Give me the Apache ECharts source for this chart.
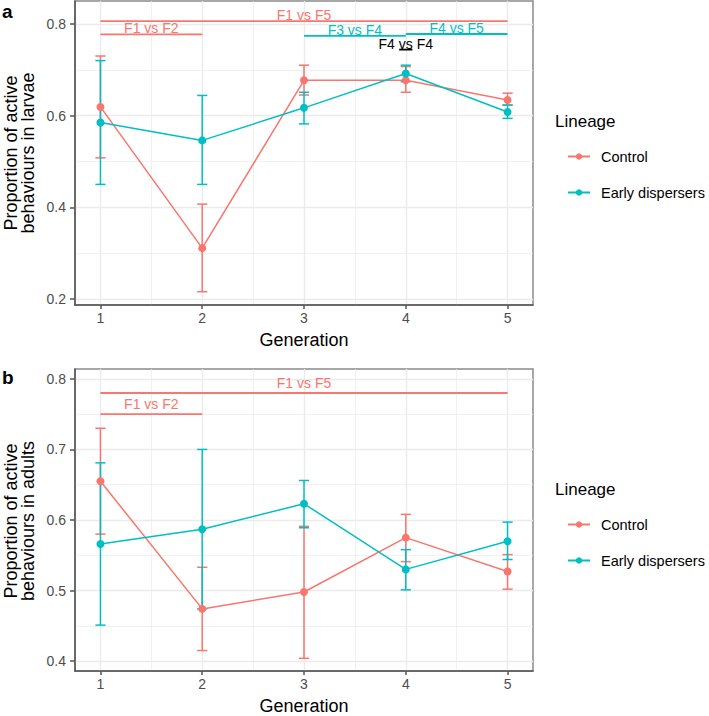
<!DOCTYPE html>
<html>
<head>
<meta charset="utf-8">
<script src="https://cdn.jsdelivr.net/npm/echarts@6/dist/echarts.min.js"></script>
<style>html,body{margin:0;padding:0;background:#fff}#c{width:709px;height:716px}</style>
</head>
<body>
<div id="c"></div>
<script>
// ---------- DATA ----------
const generations = [1, 2, 3, 4, 5];
const xTicks = [1, 2, 3, 4, 5];
const xMinor = [1.5, 2.5, 3.5, 4.5];

// Panel a: larvae
const larvaeCtrlMean = [0.619, 0.311, 0.677, 0.677, 0.634];
const larvaeCtrlLow  = [0.508, 0.216, 0.645, 0.651, 0.623];
const larvaeCtrlHigh = [0.730, 0.407, 0.710, 0.707, 0.649];
const larvaeEdMean   = [0.585, 0.546, 0.617, 0.692, 0.608];
const larvaeEdLow    = [0.450, 0.450, 0.582, 0.674, 0.594];
const larvaeEdHigh   = [0.720, 0.644, 0.651, 0.710, 0.623];
const larvaeYTicks = [0.2, 0.4, 0.6, 0.8];
const larvaeYMinor = [0.3, 0.5, 0.7];
const larvaeSigLabel = ['F1 vs F5', 'F1 vs F2', 'F3 vs F4', 'F4 vs F5', 'F4 vs F4'];
const larvaeSigX1    = [1, 1, 3, 4, 3.935];
const larvaeSigX2    = [5, 2, 4, 5, 4.065];
const larvaeSigY     = [0.806, 0.777, 0.774, 0.778, 0.744];
const larvaeSigGroup = ['Control', 'Control', 'Early dispersers', 'Early dispersers', 'none'];

// Panel b: adults
const adultCtrlMean = [0.655, 0.474, 0.498, 0.575, 0.527];
const adultCtrlLow  = [0.580, 0.415, 0.404, 0.541, 0.502];
const adultCtrlHigh = [0.730, 0.533, 0.591, 0.608, 0.551];
const adultEdMean   = [0.566, 0.587, 0.623, 0.530, 0.570];
const adultEdLow    = [0.451, 0.474, 0.589, 0.501, 0.544];
const adultEdHigh   = [0.681, 0.700, 0.656, 0.558, 0.597];
const adultYTicks = [0.4, 0.5, 0.6, 0.7, 0.8];
const adultYMinor = [0.45, 0.55, 0.65, 0.75];
const adultSigLabel = ['F1 vs F5', 'F1 vs F2'];
const adultSigX1    = [1, 1];
const adultSigX2    = [5, 2];
const adultSigY     = [0.780, 0.750];
const adultSigGroup = ['Control', 'Control'];

// ---------- STYLE ----------
const COL = {'Control': '#F8766D', 'Early dispersers': '#00BFC4', 'none': '#000000'};
const FONT = '"Liberation Sans", Arial, Helvetica, sans-serif';

const chart = echarts.init(document.getElementById('c'), null, {renderer: 'svg'});

function gridLines(ix, xMaj, xMin, yMaj, yMin) {
  const mk = (vals, key, w) => vals.map(v => ({[key]: v, lineStyle: {width: w}}));
  return {
    type: 'line', xAxisIndex: ix, yAxisIndex: ix, data: [], silent: true, z: 0,
    markLine: {
      silent: true, symbol: 'none', animation: false, z: 0,
      label: {show: false},
      lineStyle: {color: '#ebebeb', type: 'solid', width: 1.3},
      data: [].concat(mk(xMin, 'xAxis', 0.7), mk(yMin, 'yAxis', 0.7), mk(xMaj, 'xAxis', 1.4), mk(yMaj, 'yAxis', 1.4))
    }
  };
}

function lineSeries(ix, name, mean) {
  return {
    type: 'line', name: name, xAxisIndex: ix, yAxisIndex: ix,
    data: generations.map((g, i) => [g, mean[i]]),
    symbol: 'circle', symbolSize: 8, showSymbol: true,
    itemStyle: {color: COL[name]},
    lineStyle: {color: COL[name], width: 1.5},
    z: 3, animation: false
  };
}

function errSeries(ix, name, low, high) {
  return {
    type: 'custom', name: name + ' err', xAxisIndex: ix, yAxisIndex: ix,
    data: generations.map((g, i) => [g, low[i], high[i]]),
    encode: {x: 0, y: [1, 2]},
    z: 2, animation: false, silent: true,
    renderItem: function (params, api) {
      const x = api.value(0);
      const pLo = api.coord([x, api.value(1)]);
      const pHi = api.coord([x, api.value(2)]);
      const hw = api.size([0.1, 0])[0] / 2;
      const st = {stroke: COL[name], lineWidth: 1.5};
      return {type: 'group', children: [
        {type: 'line', shape: {x1: pLo[0], y1: pLo[1], x2: pHi[0], y2: pHi[1]}, style: st},
        {type: 'line', shape: {x1: pLo[0] - hw, y1: pLo[1], x2: pLo[0] + hw, y2: pLo[1]}, style: st},
        {type: 'line', shape: {x1: pHi[0] - hw, y1: pHi[1], x2: pHi[0] + hw, y2: pHi[1]}, style: st}
      ]};
    }
  };
}

function sigSeries(ix, labels, x1, x2, y, grp, textOff) {
  return {
    type: 'custom', name: 'sig' + ix, xAxisIndex: ix, yAxisIndex: ix,
    data: labels.map((l, i) => [x1[i], x2[i], y[i]]),
    encode: {x: [0, 1], y: 2},
    z: 4, animation: false, silent: true,
    renderItem: function (params, api) {
      const i = params.dataIndex;
      const p1 = api.coord([api.value(0), api.value(2)]);
      const p2 = api.coord([api.value(1), api.value(2)]);
      const c = COL[grp[i]];
      return {type: 'group', children: [
        {type: 'line', shape: {x1: p1[0], y1: p1[1], x2: p2[0], y2: p2[1]}, style: {stroke: c, lineWidth: 1.8}},
        {type: 'text', style: {text: labels[i], x: (p1[0] + p2[0]) / 2, y: p1[1] - textOff,
          textAlign: 'center', textVerticalAlign: 'middle', fill: c, font: '14px ' + FONT}}
      ]};
    }
  };
}

function xAxis(ix) {
  return {
    type: 'value', gridIndex: ix, min: 0.75, max: 5.25,
    axisLine: {show: true, onZero: false, lineStyle: {color: '#555', width: 1.5}},
    axisTick: {show: true, length: 4, customValues: xTicks, lineStyle: {color: '#555', width: 1.5}},
    axisLabel: {customValues: xTicks, color: '#4d4d4d', fontSize: 14, fontFamily: FONT, margin: 6,
      formatter: v => String(v)},
    splitLine: {show: false},
    name: 'Generation', nameLocation: 'middle', nameGap: 26,
    nameTextStyle: {color: '#000', fontSize: 18, fontFamily: FONT}
  };
}

function yAxis(ix, min, max, ticks) {
  return {
    type: 'value', gridIndex: ix, min: min, max: max,
    axisLine: {show: true, onZero: false, lineStyle: {color: '#555', width: 1.5}},
    axisTick: {show: true, length: 5, customValues: ticks, lineStyle: {color: '#555', width: 1.5}},
    axisLabel: {customValues: ticks, color: '#4d4d4d', fontSize: 14, fontFamily: FONT, margin: 9,
      formatter: v => v.toFixed(1)},
    splitLine: {show: false}
  };
}

function legend(top) {
  return {
    orient: 'vertical', left: 567, top: top, padding: 0,
    itemWidth: 22, itemHeight: 8, itemGap: 21,
    data: ['Control', 'Early dispersers'],
    textStyle: {color: '#000', fontSize: 14.5, fontFamily: FONT, padding: [0, 0, 0, 6]},
    selectedMode: false
  };
}

const option = {
  backgroundColor: '#fff',
  animation: false,
  grid: [
    {left: 75, top: 1, width: 458, height: 304, show: true, borderColor: '#8a8a8a', borderWidth: 1.5, backgroundColor: 'transparent'},
    {left: 75, top: 369, width: 458, height: 304, show: true, borderColor: '#8a8a8a', borderWidth: 1.5, backgroundColor: 'transparent'}
  ],
  xAxis: [xAxis(0), xAxis(1)],
  yAxis: [yAxis(0, 0.187, 0.85, larvaeYTicks), yAxis(1, 0.386, 0.814, adultYTicks)],
  legend: [legend(149), legend(517)],
  graphic: [
    {type: 'text', left: 2, top: 2, style: {text: 'a', font: 'bold 19px ' + FONT, fill: '#000'}},
    {type: 'text', left: 2, top: 368, style: {text: 'b', font: 'bold 19px ' + FONT, fill: '#000'}},
    {type: 'text', x: 19.5, y: 153, rotation: Math.PI / 2,
      style: {text: 'Proportion of active\nbehaviours in larvae', font: '18px ' + FONT, fill: '#000',
        textAlign: 'center', textVerticalAlign: 'middle', lineHeight: 17.5}},
    {type: 'text', x: 19.5, y: 521, rotation: Math.PI / 2,
      style: {text: 'Proportion of active\nbehaviours in adults', font: '18px ' + FONT, fill: '#000',
        textAlign: 'center', textVerticalAlign: 'middle', lineHeight: 17.5}},
    {type: 'text', left: 555, top: 113, style: {text: 'Lineage', font: '17px ' + FONT, fill: '#000'}},
    {type: 'text', left: 555, top: 481, style: {text: 'Lineage', font: '17px ' + FONT, fill: '#000'}}
  ],
  series: [
    gridLines(0, xTicks, xMinor, larvaeYTicks, larvaeYMinor),
    gridLines(1, xTicks, xMinor, adultYTicks, adultYMinor),
    lineSeries(0, 'Control', larvaeCtrlMean),
    lineSeries(0, 'Early dispersers', larvaeEdMean),
    errSeries(0, 'Control', larvaeCtrlLow, larvaeCtrlHigh),
    errSeries(0, 'Early dispersers', larvaeEdLow, larvaeEdHigh),
    sigSeries(0, larvaeSigLabel, larvaeSigX1, larvaeSigX2, larvaeSigY, larvaeSigGroup, 6),
    lineSeries(1, 'Control', adultCtrlMean),
    lineSeries(1, 'Early dispersers', adultEdMean),
    errSeries(1, 'Control', adultCtrlLow, adultCtrlHigh),
    errSeries(1, 'Early dispersers', adultEdLow, adultEdHigh),
    sigSeries(1, adultSigLabel, adultSigX1, adultSigX2, adultSigY, adultSigGroup, 10)
  ]
};
chart.setOption(option);
</script>
</body>
</html>
